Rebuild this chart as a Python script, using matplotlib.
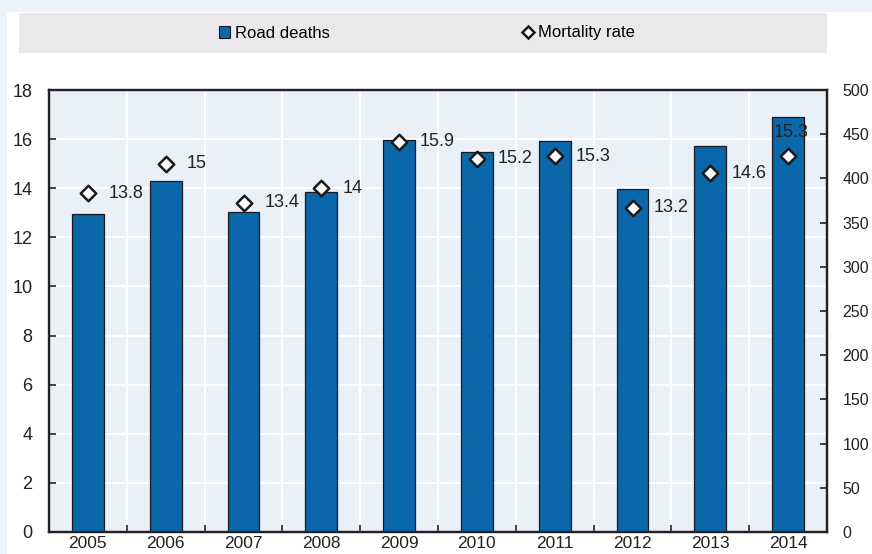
import matplotlib
matplotlib.use("Agg")
import matplotlib.pyplot as plt
import matplotlib.patches as mpatches
from matplotlib.lines import Line2D
import numpy as np

plt.rcParams['font.family'] = ['Liberation Sans Narrow', 'Liberation Sans', 'DejaVu Sans']

years = ['2005', '2006', '2007', '2008', '2009', '2010', '2011', '2012', '2013', '2014']
road_deaths = [360, 397, 362, 385, 443, 430, 442, 388, 437, 469]
mortality_rate = [13.8, 15, 13.4, 14, 15.9, 15.2, 15.3, 13.2, 14.6, 15.3]

W, H = 872, 554
fig = plt.figure(figsize=(W / 100, H / 100), dpi=100)
fig.patch.set_facecolor('#edf3fb')

# white panel inside the light blue frame
fig.patches.append(mpatches.Rectangle((7 / W, 0), 1, 1 - 12 / H, transform=fig.transFigure,
                                      facecolor='white', edgecolor='none', zorder=-2))
# grey legend band
fig.patches.append(mpatches.Rectangle((19 / W, 1 - 53 / H), (827 - 19) / W, 40 / H,
                                      transform=fig.transFigure, facecolor='#e9e9eb',
                                      edgecolor='none', zorder=-1))

ax = fig.add_axes([49 / W, 22 / H, (827 - 49) / W, (532 - 90) / H])
ax.set_facecolor('#eaf0f8')
ax2 = ax.twinx()

x = np.arange(len(years))
blue = '#0a67a9'

# bars on right axis
ax2.bar(x, road_deaths, width=0.41, color=blue, edgecolor='#1a1a1a', linewidth=0.9, zorder=2)
ax2.set_ylim(0, 500)
ax2.set_yticks(np.arange(0, 501, 50))

# diamonds on left axis, on an overlay axis so they sit above bars
ax3 = ax.twinx()
ax3.set_ylim(0, 18)
ax3.axis('off')
ax3.scatter(x, mortality_rate, marker='D', s=62, facecolor='white', edgecolor='#1a1a1a',
            linewidth=1.8, zorder=5, clip_on=False)
for i, v in enumerate(mortality_rate):
    lab = f'{v:g}'
    if i == len(years) - 1:
        ax3.annotate(lab, (x[i], v), xytext=(2, 11), textcoords='offset points',
                     ha='center', va='bottom', fontsize=13, color='#222222')
    else:
        ax3.annotate(lab, (x[i], v), xytext=(15, 0), textcoords='offset points',
                     ha='left', va='center', fontsize=13, color='#222222')

for a in (ax, ax2, ax3):
    a.set_xlim(-0.5, len(years) - 0.5)
ax.set_ylim(0, 18)
ax.set_yticks(np.arange(0, 19, 2))
ax.set_xticks(x)
ax.set_xticklabels(years)
ax.set_xticks(np.arange(0.5, len(years) - 0.5, 1), minor=True)

ax.grid(True, axis='y', color='white', linewidth=1.6)
ax.grid(True, axis='x', which='minor', color='white', linewidth=1.6)
ax.set_axisbelow(True)

ax.tick_params(axis='x', which='major', length=0, labelsize=12.5, pad=3, colors='#222222')
ax.tick_params(axis='x', which='minor', direction='in', length=5, width=1.2, color='#222222')
ax.tick_params(axis='y', direction='in', length=5, width=1.2, labelsize=13, pad=12,
               colors='#222222')
ax2.tick_params(axis='y', direction='in', length=5, width=1.2, labelsize=11.5, pad=11,
                colors='#222222')

for a in (ax, ax2):
    for s in a.spines.values():
        s.set_color('#222222')
        s.set_linewidth(1.6)

# legend
handles = [mpatches.Patch(facecolor=blue, edgecolor='#1a1a1a', linewidth=0.8, label='Road deaths'),
           Line2D([], [], marker='D', linestyle='none', markerfacecolor='white',
                  markeredgecolor='#1a1a1a', markeredgewidth=1.8, markersize=6.5,
                  label='Mortality rate')]
fig.legend(handles=handles, loc='center', bbox_to_anchor=(427 / W, 1 - 33 / H), ncol=2,
           frameon=False, fontsize=12, handlelength=0.7, handleheight=0.7,
           handletextpad=0.3, columnspacing=11.5)

fig.savefig('out.png', dpi=100, facecolor=fig.get_facecolor())
